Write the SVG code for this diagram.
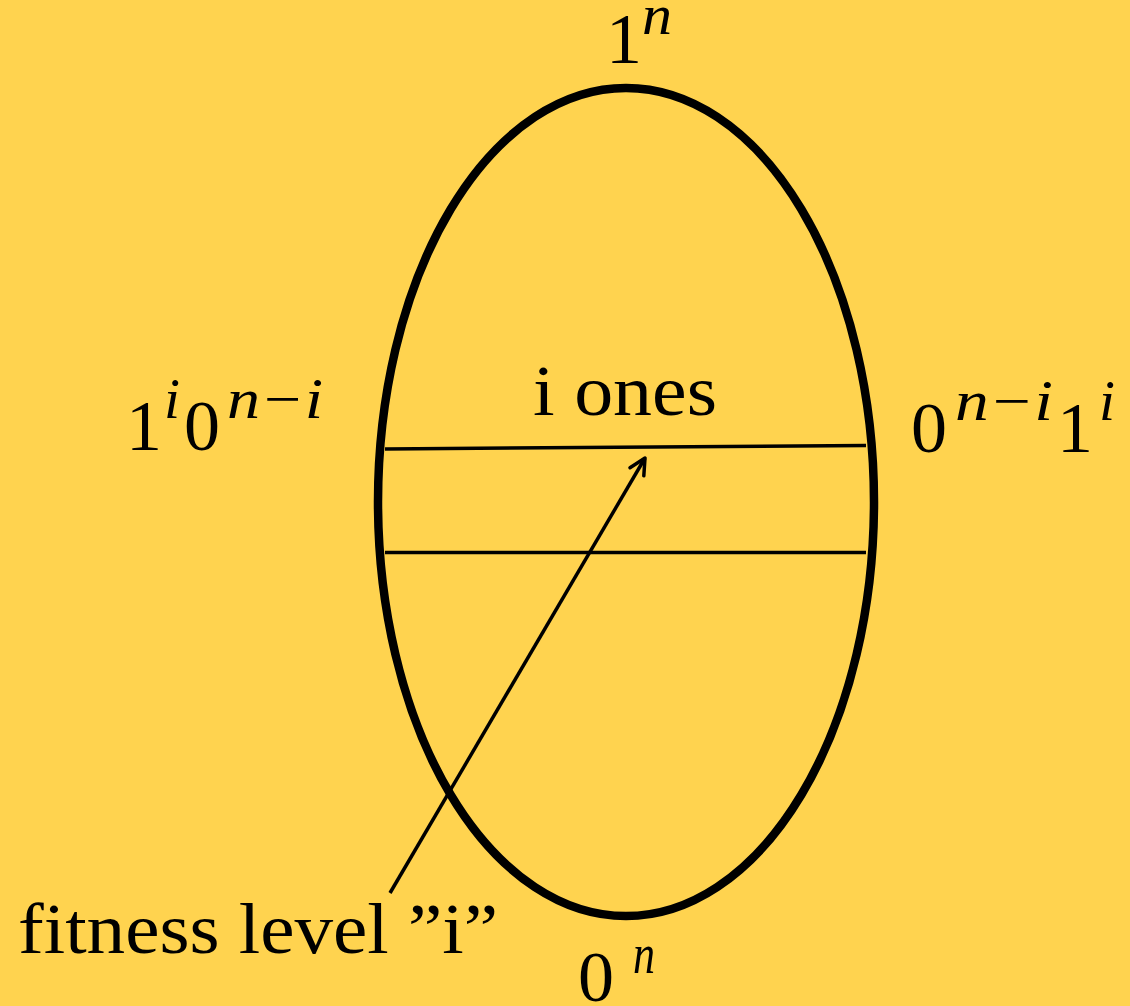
<svg xmlns="http://www.w3.org/2000/svg" width="1130" height="1006" viewBox="0 0 1130 1006">
<style>
.t{font-family:"Liberation Serif","Times New Roman",serif;fill:#000;font-size:72px}
.s{font-size:56px}
.m{font-style:italic}
.ln{stroke:#000;stroke-width:3.5;fill:none}
</style>
<defs>
<marker id="ah" markerWidth="24" markerHeight="24" refX="20" refY="12" orient="auto" markerUnits="userSpaceOnUse">
<path d="M4,4 L20,12 L4,20" fill="none" stroke="#000" stroke-width="3.5" stroke-linecap="round" stroke-linejoin="round"/>
</marker>
</defs>
<rect width="1130" height="1006" fill="#FFD34F"/>
<g id="ellipse">
<ellipse cx="626" cy="502" rx="248" ry="414" fill="none" stroke="#000" stroke-width="8.5"/>
</g>
<g id="connectors">
<line class="ln" x1="385" y1="449" x2="866" y2="445.5"/>
<line class="ln" x1="385" y1="552.5" x2="866" y2="552.5"/>
<line class="ln" x1="390" y1="893" x2="645" y2="458" marker-end="url(#ah)"/>
</g>
<g id="top-label">
<text class="t" x="606" y="63">1</text>
<text class="t s m" x="642" y="34" textLength="30" lengthAdjust="spacingAndGlyphs">n</text>
</g>
<g id="left-label">
<text class="t" x="126" y="450">1</text>
<text class="t s m" x="164" y="418" textLength="16" lengthAdjust="spacingAndGlyphs">i</text>
<text class="t" x="184" y="450">0</text>
<text class="t s m" x="227" y="418" textLength="96" lengthAdjust="spacingAndGlyphs">n−i</text>
</g>
<g id="right-label">
<text class="t" x="911" y="452">0</text>
<text class="t s m" x="955" y="420" textLength="98" lengthAdjust="spacingAndGlyphs">n−i</text>
<text class="t" x="1057" y="452">1</text>
<text class="t s m" x="1099" y="420" textLength="16" lengthAdjust="spacingAndGlyphs">i</text>
</g>
<g id="middle-label">
<text class="t" x="533" y="415" textLength="184" lengthAdjust="spacingAndGlyphs">i ones</text>
</g>
<g id="bottom-label">
<text class="t" x="578" y="1001">0</text>
<text class="t s m" x="633" y="973" textLength="22" lengthAdjust="spacingAndGlyphs">n</text>
</g>
<g id="fitness-label">
<text class="t" x="18" y="953" textLength="480" lengthAdjust="spacingAndGlyphs">fitness level ”i”</text>
</g>
</svg>
